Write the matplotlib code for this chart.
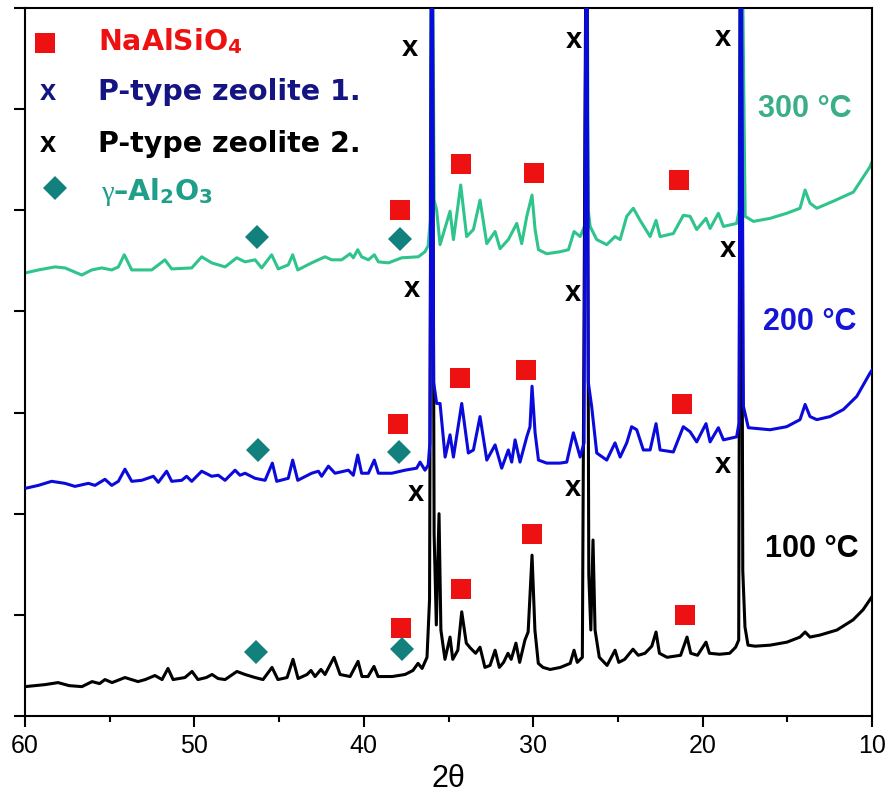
import numpy as np
import matplotlib
matplotlib.use("Agg")
import matplotlib.pyplot as plt
from matplotlib.ticker import MultipleLocator

plt.rcParams['font.family'] = ['Liberation Sans', 'DejaVu Sans']
plt.rcParams['mathtext.fontset'] = 'custom'
plt.rcParams['mathtext.rm'] = 'DejaVu Sans'
plt.rcParams['mathtext.bf'] = 'DejaVu Sans:bold'
plt.rcParams['mathtext.it'] = 'Liberation Serif'

# stacked XRD patterns: (2theta, intensity a.u.), each sample already offset
xrd_100 = [
    (60.00, 290), (59.40, 300), (58.82, 310), (58.05, 330), (57.40, 300), (56.64, 290),
    (56.04, 340), (55.60, 320), (55.28, 360), (54.86, 330), (54.10, 380), (53.33, 340),
    (52.90, 360), (52.33, 400), (51.91, 360), (51.56, 470), (51.26, 360), (50.56, 380),
    (50.14, 440), (49.79, 360), (49.30, 380), (48.96, 410), (48.60, 370), (48.19, 360),
    (47.49, 440), (47.01, 410), (46.42, 380), (45.95, 360), (45.42, 480), (45.07, 360),
    (44.53, 380), (44.18, 560), (43.88, 370), (43.35, 410), (43.12, 450), (42.88, 390),
    (42.53, 460), (42.29, 410), (41.76, 580), (41.40, 410), (40.81, 390), (40.34, 540),
    (40.11, 390), (39.75, 390), (39.40, 490), (39.16, 390), (38.33, 390), (37.57, 410),
    (37.10, 450), (36.80, 520), (36.56, 470), (36.27, 580), (36.12, 1150), (35.98, 9000),
    (35.85, 1800), (35.72, 900), (35.56, 2000), (35.45, 850), (35.21, 560), (34.91, 780),
    (34.75, 560), (34.45, 650), (34.22, 1030), (33.95, 720), (33.70, 670), (33.40, 620),
    (33.14, 680), (32.85, 480), (32.55, 500), (32.25, 650), (32.00, 480), (31.75, 530),
    (31.49, 620), (31.30, 560), (31.02, 720), (30.80, 530), (30.49, 750), (30.30, 830),
    (30.07, 1590), (29.90, 850), (29.70, 520), (29.42, 480), (29.00, 460), (28.40, 480),
    (27.82, 520), (27.59, 650), (27.40, 530), (27.10, 580), (26.85, 9000), (26.72, 1400),
    (26.60, 850), (26.47, 1740), (26.35, 850), (26.10, 580), (25.64, 500), (25.17, 650),
    (24.95, 530), (24.60, 560), (24.11, 660), (23.80, 600), (23.40, 620), (23.00, 690),
    (22.75, 830), (22.55, 620), (22.10, 580), (21.70, 590), (21.30, 600), (20.92, 780),
    (20.70, 620), (20.30, 600), (19.80, 730), (19.60, 620), (19.00, 610), (18.40, 620),
    (18.05, 680), (17.87, 750), (17.75, 9000), (17.63, 1440), (17.50, 880), (17.32, 700),
    (16.90, 690), (16.02, 700), (15.02, 730), (14.25, 780), (13.95, 830), (13.66, 780),
    (13.07, 800), (12.07, 850), (11.12, 950), (10.53, 1050), (10.12, 1150), (10.00, 1180),
]

xrd_200 = [
    (60.00, 2250), (59.21, 2280), (58.43, 2320), (57.64, 2300), (57.05, 2270), (56.26, 2300),
    (55.87, 2280), (55.28, 2340), (54.88, 2280), (54.49, 2320), (54.10, 2440), (53.70, 2320),
    (53.11, 2330), (52.42, 2370), (52.13, 2310), (51.64, 2420), (51.34, 2320), (50.75, 2330),
    (50.46, 2370), (50.16, 2320), (49.57, 2420), (48.98, 2370), (48.59, 2380), (48.19, 2330),
    (47.60, 2430), (47.31, 2380), (47.01, 2400), (46.42, 2350), (45.83, 2330), (45.40, 2500),
    (45.14, 2320), (44.46, 2350), (44.20, 2530), (43.90, 2330), (43.08, 2400), (42.68, 2420),
    (42.49, 2370), (42.09, 2470), (41.70, 2400), (40.91, 2430), (40.62, 2380), (40.36, 2580),
    (40.13, 2400), (39.73, 2400), (39.38, 2530), (39.14, 2400), (38.35, 2400), (37.57, 2430),
    (36.88, 2450), (36.68, 2510), (36.39, 2430), (36.20, 2480), (36.10, 2700), (35.98, 9000),
    (35.88, 3300), (35.70, 3090), (35.50, 3090), (35.20, 2560), (34.91, 2780), (34.71, 2560),
    (34.22, 3090), (33.83, 2600), (33.53, 2630), (33.14, 2960), (32.74, 2530), (32.25, 2680),
    (31.86, 2450), (31.47, 2630), (31.27, 2510), (31.07, 2730), (30.78, 2510), (30.38, 2760),
    (30.19, 2860), (30.07, 3260), (29.89, 2800), (29.69, 2530), (29.20, 2500), (28.42, 2500),
    (28.02, 2510), (27.63, 2800), (27.23, 2560), (27.00, 2700), (26.85, 9000), (26.75, 3300),
    (26.55, 3060), (26.25, 2600), (25.66, 2530), (25.17, 2700), (24.87, 2560), (24.48, 2700),
    (24.19, 2860), (23.89, 2830), (23.50, 2630), (23.10, 2630), (22.75, 2890), (22.51, 2630),
    (21.73, 2610), (21.14, 2860), (20.74, 2810), (20.35, 2710), (19.80, 2890), (19.56, 2710),
    (19.07, 2850), (18.77, 2730), (17.99, 2760), (17.85, 2900), (17.75, 9000), (17.59, 3060),
    (17.30, 2850), (16.02, 2830), (15.04, 2860), (14.25, 2930), (13.95, 3080), (13.66, 2960),
    (13.26, 2930), (12.48, 2960), (11.69, 3030), (10.90, 3160), (10.12, 3390), (10.00, 3420),
]

xrd_300 = [
    (60.00, 4380), (59.21, 4410), (58.23, 4440), (57.64, 4430), (56.65, 4360), (56.06, 4410),
    (55.47, 4430), (54.88, 4410), (54.49, 4440), (54.14, 4560), (53.70, 4410), (52.52, 4410),
    (51.74, 4510), (51.34, 4420), (50.16, 4430), (49.57, 4540), (48.98, 4480), (48.19, 4440),
    (47.50, 4530), (47.01, 4490), (46.42, 4510), (46.03, 4430), (45.44, 4560), (45.05, 4420),
    (44.46, 4460), (44.20, 4560), (43.90, 4410), (43.08, 4480), (42.29, 4540), (41.90, 4510),
    (41.31, 4510), (40.81, 4570), (40.62, 4530), (40.36, 4610), (40.13, 4540), (39.73, 4510),
    (39.38, 4560), (39.14, 4490), (38.55, 4480), (37.76, 4530), (36.78, 4540), (36.39, 4590),
    (36.20, 4650), (36.08, 4900), (35.98, 9000), (35.85, 5100), (35.70, 5000), (35.50, 4660),
    (34.91, 4990), (34.71, 4710), (34.28, 5250), (33.93, 4740), (33.53, 4810), (33.14, 5100),
    (32.74, 4670), (32.25, 4790), (31.96, 4620), (31.47, 4710), (30.97, 4870), (30.68, 4670),
    (30.38, 4940), (30.07, 5150), (29.89, 4810), (29.69, 4610), (29.20, 4570), (28.42, 4590),
    (27.92, 4610), (27.59, 4790), (27.23, 4740), (26.95, 4850), (26.85, 9000), (26.75, 5000),
    (26.64, 4840), (26.25, 4710), (25.66, 4660), (25.17, 4740), (24.87, 4710), (24.48, 4940),
    (24.09, 5020), (23.69, 4900), (23.10, 4740), (22.75, 4900), (22.51, 4740), (21.73, 4770),
    (21.14, 4950), (20.74, 4940), (20.35, 4810), (19.80, 4920), (19.56, 4820), (19.07, 4970),
    (18.77, 4840), (17.99, 4870), (17.85, 5000), (17.75, 9000), (17.49, 4940), (17.00, 4890),
    (16.02, 4920), (15.04, 4970), (14.25, 5020), (13.95, 5200), (13.66, 5070), (13.26, 5020),
    (12.28, 5090), (11.10, 5180), (10.12, 5430), (10.00, 5480),
]

# phase marks (2theta, height) for the three patterns
nasio_marks = [(37.86, 5000), (34.26, 5460), (29.95, 5370), (21.39, 5300),
               (37.98, 2890), (34.32, 3340), (30.43, 3420), (21.22, 3085),
               (37.80, 870), (34.26, 1256), (30.07, 1800), (21.04, 1000)]
zeolite_marks = [(37.27, 6600), (27.59, 6680), (18.80, 6700),
                 (37.15, 4220), (27.65, 4180), (18.50, 4620),
                 (36.92, 2200), (27.65, 2250), (18.80, 2480)]
alumina_marks = [(46.30, 4736), (37.86, 4716),
                 (46.25, 2630), (37.92, 2610),
                 (46.36, 633), (37.74, 662)]

temps = ['300 °C', '200 °C', '100 °C']
temp_pos = [(16.73, 5922), (16.43, 3816), (16.32, 1572)]

red = '#EE1111'
navy = '#141482'
teal = '#12807C'
green = '#2EC48C'
blue = '#0A0ADC'

fig = plt.figure(figsize=(8.9, 8.07), dpi=100)
ax = fig.add_axes([0.0281, 0.1128, 0.9517, 0.8773])

for data, col, z in [(xrd_300, green, 1), (xrd_100, 'black', 2), (xrd_200, blue, 3)]:
    arr = np.array(data)
    ax.plot(arr[:, 0], arr[:, 1], color=col, lw=2.2, zorder=z, solid_joinstyle='round')

m = np.array(nasio_marks)
ax.plot(m[:, 0], m[:, 1], 's', color=red, ms=13.7, mew=0, zorder=5)
m = np.array(alumina_marks)
ax.plot(m[:, 0], m[:, 1], 'D', color=teal, ms=12.7, mew=0, zorder=5)
for x, y in zeolite_marks:
    ax.text(x, y, 'x', ha='center', va='center', fontsize=21, fontweight='bold', zorder=6)

for lab, (x, y), col in zip(temps, temp_pos, ['#3AAE86', '#1515D8', 'black']):
    ax.text(x, y, lab, color=col, fontsize=22, fontweight='bold', ha='left', va='baseline')

# legend, drawn by hand
tx = 0.0862
ax.plot(0.0236, 0.9506, 's', color=red, ms=14, mew=0, transform=ax.transAxes)
ax.text(0.0272, 0.8701, 'x', color=navy, fontsize=21, fontweight='bold',
        ha='center', va='baseline', transform=ax.transAxes)
ax.text(0.0272, 0.7966, 'x', color='black', fontsize=21, fontweight='bold',
        ha='center', va='baseline', transform=ax.transAxes)
ax.plot(0.0354, 0.7458, 'D', color=teal, ms=12.7, mew=0, transform=ax.transAxes)
legend_rows = [(r'NaAlSiO$_\mathbf{4}$', red, 0.9407, tx),
               ('P-type zeolite 1.', navy, 0.8701, tx),
               ('P-type zeolite 2.', 'black', 0.7966, tx),
               (r'$\gamma$–Al$_\mathbf{2}$O$_\mathbf{3}$', '#1F9E89', 0.7288, tx + 0.003)]
for lab, col, y, x in legend_rows:
    ax.text(x, y, lab, color=col, fontsize=20.5, fontweight='bold', family='DejaVu Sans',
            ha='left', va='baseline', transform=ax.transAxes)

ax.set_xlim(60, 10)
ax.set_ylim(0, 7000)
ax.xaxis.set_major_locator(MultipleLocator(10))
ax.xaxis.set_minor_locator(MultipleLocator(5))
ax.set_yticks(np.arange(0, 7001, 1000))
ax.set_yticklabels([])
ax.tick_params(axis='x', which='major', direction='out', length=8, width=1.5,
               labelsize=18, pad=5)
ax.tick_params(axis='x', which='minor', direction='out', length=4.5, width=1.5)
ax.tick_params(axis='y', direction='out', length=8, width=1.5)
for s in ax.spines.values():
    s.set_linewidth(1.5)
ax.set_xlabel('2θ', fontsize=22, labelpad=4)

fig.savefig('out.png', dpi=100)
